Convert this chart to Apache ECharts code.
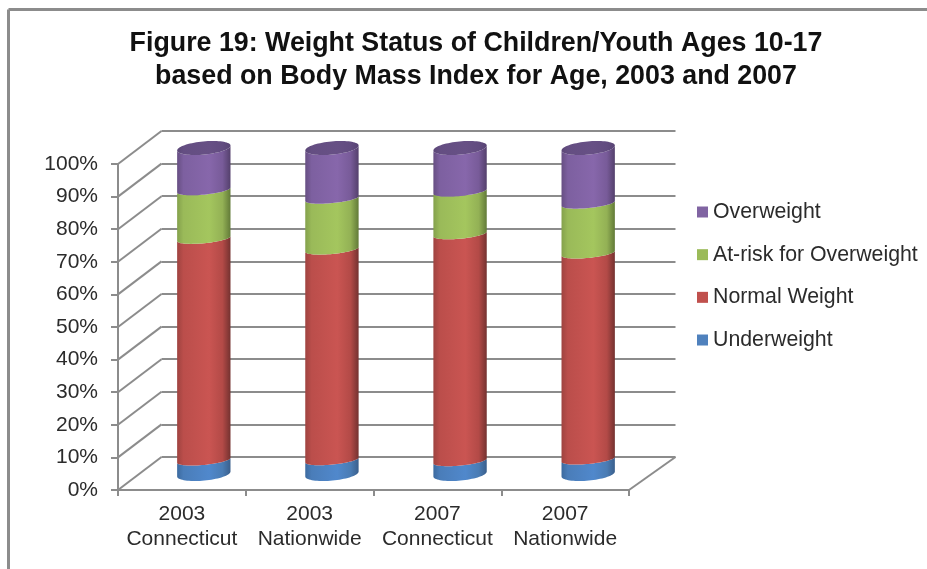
<!DOCTYPE html>
<html>
<head>
<meta charset="utf-8">
<style>html,body{margin:0;padding:0;background:#fff}#chart{width:927px;height:569px}</style>
<script src="https://cdn.jsdelivr.net/npm/echarts@6/dist/echarts.min.js"></script>
</head>
<body>
<div id="chart"></div>
<script>
// Stacked shares (percent) for each survey group
const categories = ['2003\nConnecticut', '2003\nNationwide', '2007\nConnecticut', '2007\nNationwide'];
const underweight = [4.2, 4.3, 4.0, 4.5];
const normalWeight = [68.0, 64.6, 69.6, 63.2];
const atRisk = [14.9, 15.6, 13.1, 15.3];
const overweight = [12.9, 15.5, 13.3, 17.0];

const seriesNames = ['Underweight', 'Normal Weight', 'At-risk for Overweight', 'Overweight'];
const seriesValues = [underweight, normalWeight, atRisk, overweight];
const legendOrder = ['Overweight', 'At-risk for Overweight', 'Normal Weight', 'Underweight'];
const valueTicks = [0, 10, 20, 30, 40, 50, 60, 70, 80, 90, 100];

// Flat swatch colour plus the left / body / highlight / body / right shades of each cylinder band
const swatches = ['#4f81bd', '#c0504d', '#9bbb59', '#8064a2'];
const shades = [
  ['#3c6a9f', '#4a7db9', '#5088cc', '#4a7cb4', '#3a5f8c'],
  ['#9f4340', '#bb4e4b', '#ca5552', '#b34a47', '#743230'],
  ['#84a14c', '#9aba59', '#a4c65e', '#93b155', '#627a38'],
  ['#674f83', '#7d60a0', '#8767ab', '#785b99', '#54406c']
];
const capShades = ['#5b4777', '#644e82', '#675085', '#624c80', '#584474'];

// Oblique projection: the floor and walls are sheared by this many pixels
const depthX = 43.5, depthY = 33;
const front = { left: 118, top: 164, width: 511, height: 326 };
const ellipseRx = 26.8, outerRy = 6.6, innerRy = 4.6, ellipseTilt = -5.5 * Math.PI / 180;
const axisGray = '#8c8c8c';
const fontFamily = '"Liberation Sans", Arial, sans-serif';

const backGrid = { left: front.left + depthX, top: front.top - depthY, width: front.width + 3, height: front.height };
const midGrid = { left: front.left + depthX / 2, top: front.top - depthY / 2 + 0.5, width: front.width + 1.5, height: front.height };

function ellipsePoint(c, t, ry) {
  const a = ellipseRx * Math.cos(t), b = ry * Math.sin(t);
  return [
    c[0] + a * Math.cos(ellipseTilt) - b * Math.sin(ellipseTilt),
    c[1] + a * Math.sin(ellipseTilt) + b * Math.cos(ellipseTilt)
  ];
}

function shadeFill(stops) {
  return new echarts.graphic.LinearGradient(0, 0, 1, 0, [
    { offset: 0, color: stops[0] },
    { offset: 0.12, color: stops[1] },
    { offset: 0.6, color: stops[2] },
    { offset: 0.85, color: stops[3] },
    { offset: 1, color: stops[4] }
  ]);
}

// One visible band of a cylinder: the front half of the side wall between two values
function cylinderBand(seriesIndex) {
  const isFirst = seriesIndex === 0, isLast = seriesIndex === seriesNames.length - 1;
  return function (params, api) {
    const i = api.value(0);
    const lo = api.coord([i, api.value(1)]);
    const hi = api.coord([i, api.value(2)]);
    const steps = 36, pts = [];
    const loRy = isFirst ? outerRy : innerRy, hiRy = isLast ? outerRy : innerRy;
    for (let k = 0; k <= steps; k++) pts.push(ellipsePoint(lo, Math.PI * (1 - k / steps), loRy));
    for (let k = 0; k <= steps; k++) pts.push(ellipsePoint(hi, Math.PI * k / steps, hiRy));
    const children = [{
      type: 'polygon',
      shape: { points: pts },
      style: { fill: shadeFill(shades[seriesIndex]) }
    }];
    if (isLast) {
      const cap = [];
      for (let k = 0; k < steps * 2; k++) cap.push(ellipsePoint(hi, Math.PI * k / steps, outerRy));
      children.push({ type: 'polygon', shape: { points: cap }, style: { fill: shadeFill(capShades) } });
    }
    return { type: 'group', children };
  };
}

const cylinderSeries = seriesNames.map(function (name, s) {
  const rows = categories.map(function (c, i) {
    let base = 0;
    for (let p = 0; p < s; p++) base += seriesValues[p][i];
    return [i, base, base + seriesValues[s][i]];
  });
  return {
    name,
    type: 'custom',
    xAxisIndex: 2,
    yAxisIndex: 2,
    coordinateSystem: 'cartesian2d',
    itemStyle: { color: swatches[s] },
    encode: { x: 0, y: [1, 2] },
    renderItem: cylinderBand(s),
    data: rows,
    silent: true
  };
});

// Sheared floor and wall edges joining the front axis to the back wall
const wallEdges = {
  type: 'custom',
  xAxisIndex: 0,
  yAxisIndex: 0,
  coordinateSystem: 'cartesian2d',
  silent: true,
  z: 1,
  encode: { y: 0 },
  data: valueTicks.map(function (v) { return [v, 0]; }).concat([[0, 1]]),
  renderItem: function (params, api) {
    const cs = params.coordSys;
    const y = api.coord([0, api.value(0)])[1];
    const isRight = api.value(1) === 1;
    const x = isRight ? cs.x + cs.width : cs.x;
    return {
      type: 'line',
      shape: { x1: x, y1: y, x2: x + depthX + (isRight ? 3 : 0), y2: y - depthY },
      style: { stroke: axisGray, lineWidth: 2 }
    };
  }
};

const hiddenCategory = function (gridIndex) {
  return { type: 'category', gridIndex, data: categories, show: false };
};
const hiddenValue = function (gridIndex, grid) {
  return {
    type: 'value', gridIndex, min: 0, max: 100, interval: 10,
    axisLine: { show: false }, axisTick: { show: false }, axisLabel: { show: false },
    splitLine: { show: grid, lineStyle: { color: axisGray, width: 2 } }
  };
};

const chart = echarts.init(document.getElementById('chart'), null, { renderer: 'canvas' });
chart.setOption({
  animation: false,
  backgroundColor: '#ffffff',
  title: {
    text: 'Figure 19: Weight Status of Children/Youth Ages 10-17\nbased on Body Mass Index for Age, 2003 and 2007',
    left: 471,
    top: 22,
    textAlign: 'center',
    textStyle: { fontFamily, fontSize: 26.8, fontWeight: 'bold', color: '#111', lineHeight: 33 }
  },
  legend: {
    orient: 'vertical',
    left: 697,
    top: 201,
    padding: 0,
    icon: 'rect',
    itemWidth: 11,
    itemHeight: 11,
    itemGap: 20.67,
    selectedMode: false,
    data: legendOrder,
    textStyle: { fontFamily, fontSize: 21.3, color: '#2b2b2b', lineHeight: 22 }
  },
  grid: [front, backGrid, midGrid],
  xAxis: [
    {
      type: 'category',
      gridIndex: 0,
      data: categories,
      axisLine: { lineStyle: { color: axisGray, width: 2 } },
      axisTick: { show: true, length: 6, lineStyle: { color: axisGray, width: 2 } },
      axisLabel: { interval: 0, margin: 12, fontFamily, fontSize: 21, color: '#2b2b2b', lineHeight: 25 }
    },
    hiddenCategory(1),
    hiddenCategory(2)
  ],
  yAxis: [
    {
      type: 'value',
      gridIndex: 0,
      min: 0,
      max: 100,
      interval: 10,
      splitLine: { show: false },
      axisLine: { show: true, lineStyle: { color: axisGray, width: 2 } },
      axisTick: { show: true, length: 7, lineStyle: { color: axisGray, width: 2 } },
      axisLabel: { margin: 20, fontFamily, fontSize: 21, color: '#2b2b2b', formatter: '{value}%' }
    },
    hiddenValue(1, true),
    hiddenValue(2, false)
  ],
  graphic: [
    { type: 'line', silent: true, shape: { x1: 8.5, y1: 9.5, x2: 927, y2: 9.5 }, style: { stroke: axisGray, lineWidth: 3 } },
    { type: 'line', silent: true, shape: { x1: 8.5, y1: 9.5, x2: 8.5, y2: 569 }, style: { stroke: axisGray, lineWidth: 3 } }
  ],
  series: [wallEdges].concat(cylinderSeries)
});
</script>
</body>
</html>
